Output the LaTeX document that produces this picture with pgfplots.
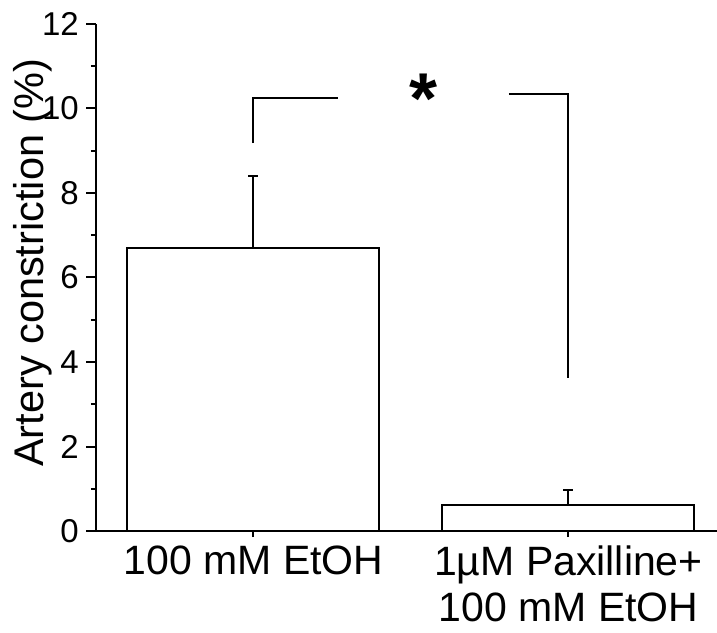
\documentclass[border=0pt]{standalone}
\usepackage{fontspec}
\setmainfont{Liberation Sans}
\usepackage{pgfplots}
\pgfplotsset{compat=1.18}
\begin{document}
\begin{tikzpicture}[x=1pt,y=1pt]
\useasboundingbox (0,0) rectangle (717,632);
\begin{axis}[
    at={(96pt,101pt)}, anchor=south west,
    scale only axis, width=620.5pt, height=507pt,
    axis lines*=left, axis line style={line width=2pt, black},
    ymin=0, ymax=12, ytick={0,2,...,12}, minor y tick num=1,
    xmin=-0.5, xmax=1.47, xtick={0,1},
    xticklabels={{100 mM EtOH},{1µM Paxilline+\\100 mM EtOH}},
    xticklabel style={align=center, font=\fontsize{41}{46}\selectfont, yshift=-4pt, inner sep=1pt},
    yticklabel style={font=\fontsize{33}{33}\selectfont, inner sep=0pt, xshift=-7pt},
    /pgf/number format/assume math mode=true,
    tick align=outside, major tick length=10pt, minor tick length=5pt,
    tick style={line width=2pt, black},
    xtick style={/pgfplots/major tick length=6pt},
    ylabel={Artery constriction (\%)},
    ylabel style={font=\fontsize{41.5}{41.5}\selectfont, at={(axis description cs:-0.1015,0.529)}, anchor=center, rotate=0},
    ybar, bar width=0.8, clip=false,
]
\addplot[fill=white, draw=black, line width=2pt,
    error bars/.cd, y dir=plus, y explicit,
    error bar style={line width=2pt, black},
    error mark options={rotate=90, mark size=5pt, line width=2pt, black}]
    coordinates {(0,6.7) +- (0,1.7) (1,0.62) +- (0,0.35)};
% significance bracket
\draw[line width=2pt] (axis cs:0,9.18) -- (axis cs:0,10.26) -- (axis cs:0.268,10.26);
\draw[line width=2pt] (axis cs:0.811,10.34) -- (axis cs:1,10.34) -- (axis cs:1,3.62);
\node[font=\fontsize{72}{72}\selectfont\bfseries] at (axis cs:0.541,10.24) {*};
\end{axis}
\end{tikzpicture}
\end{document}
